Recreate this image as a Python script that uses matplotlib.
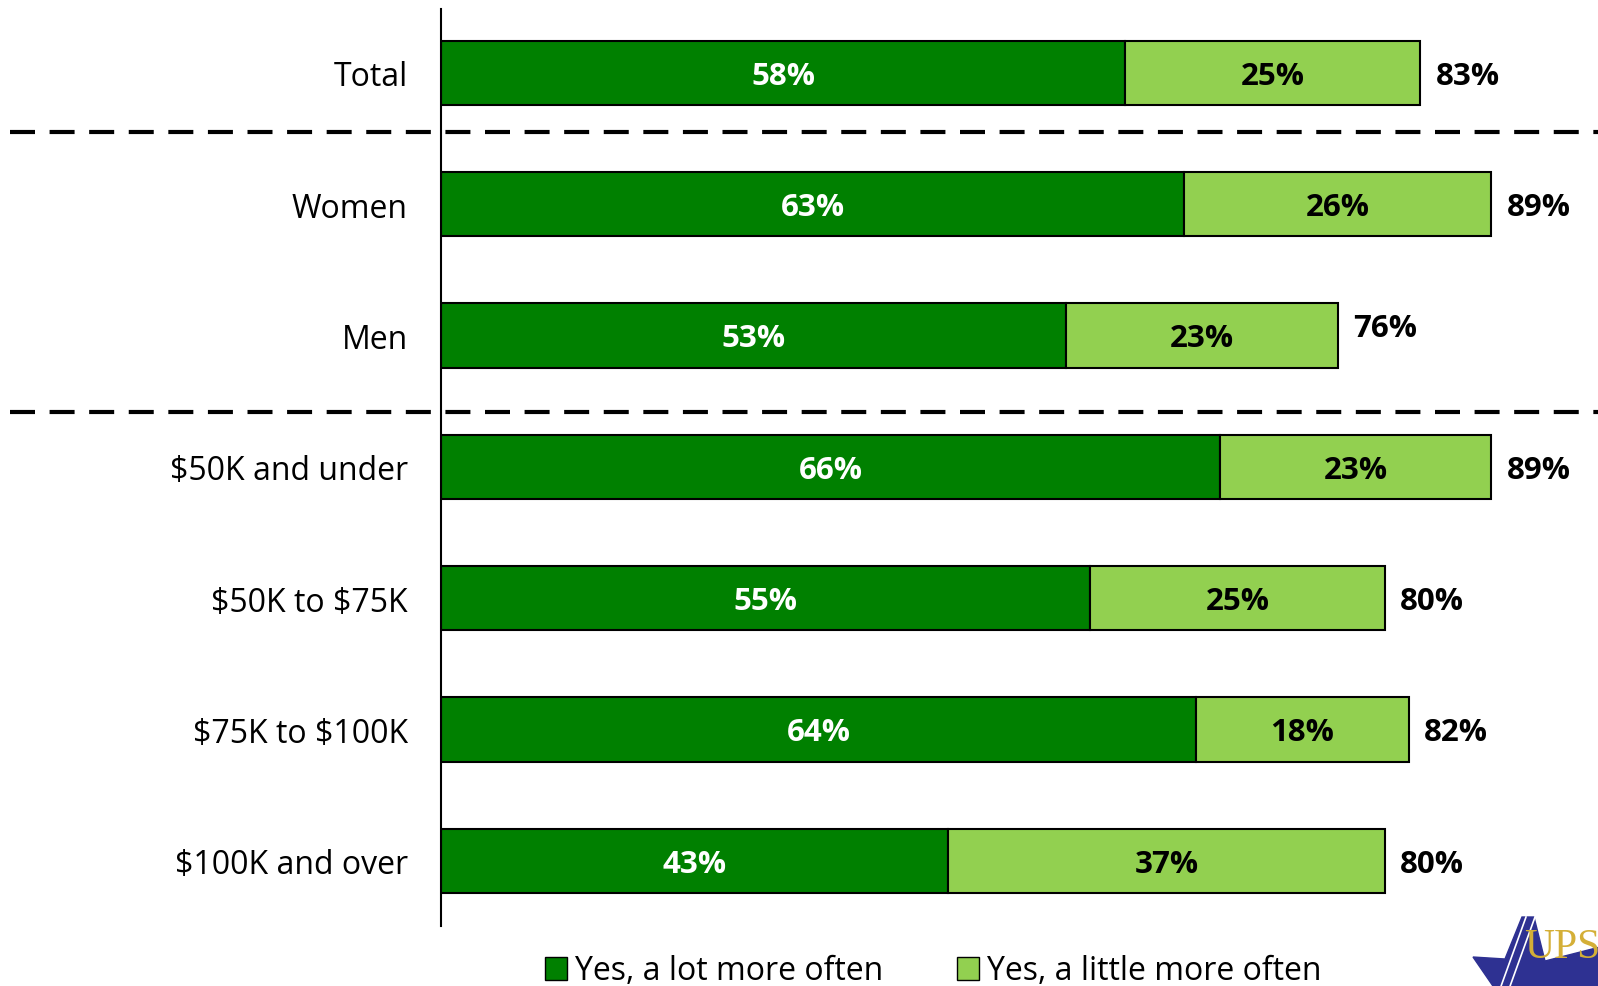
import matplotlib
matplotlib.use("Agg")
import matplotlib.pyplot as plt
from matplotlib.transforms import blended_transform_factory
from matplotlib.patches import Polygon, Patch

categories = ["Total", "Women", "Men", r"\$50K and under", r"\$50K to \$75K",
              r"\$75K to \$100K", r"\$100K and over"]
lot_more = [58, 63, 53, 66, 55, 64, 43]
little_more = [25, 26, 23, 23, 25, 18, 37]
totals = [83, 89, 76, 89, 80, 82, 80]
series_names = ["Yes, a lot more often", "Yes, a little more often"]

DARK = "#008000"
LIGHT = "#92D050"
FONT = ["Open Sans", "DejaVu Sans"]
plt.rcParams["font.family"] = FONT

W, H = 1598, 987
fig = plt.figure(figsize=(W / 100, H / 100), dpi=100)
ax = fig.add_axes([441 / W, 1 - 927 / H, 1 - 441 / W, (927 - 10) / H])

y = list(range(len(categories)))
ax.barh(y, lot_more, height=0.49, color=DARK, edgecolor="black", linewidth=1.5)
ax.barh(y, little_more, left=lot_more, height=0.49, color=LIGHT,
        edgecolor="black", linewidth=1.5)

for i in y:
    ax.text(lot_more[i] / 2, i + 0.02, f"{lot_more[i]}%", ha="center",
            va="center", color="white", fontsize=22.5, fontweight="bold")
    ax.text(lot_more[i] + little_more[i] / 2, i + 0.02, f"{little_more[i]}%",
            ha="center", va="center", color="black", fontsize=22.5,
            fontweight="bold")
    dy = -0.06 if categories[i] == "Men" else 0.02
    ax.text(totals[i] + 1.3, i + dy, f"{totals[i]}%", ha="left", va="center",
            color="black", fontsize=22.5, fontweight="bold")

ax.set_xlim(0, (W - 441) / 11.8)
ax.set_ylim(6.495, -0.487)
ax.set_yticks(y)
ax.set_yticklabels(categories, fontsize=23)
ax.tick_params(axis="y", length=0, pad=24)
ax.set_xticks([])
for s in ["top", "right", "bottom"]:
    ax.spines[s].set_visible(False)
ax.spines["left"].set_linewidth(1.5)

tr = blended_transform_factory(fig.transFigure, ax.transData)
for yl in [0.45, 2.58]:
    ax.plot([10 / W, 1.0], [yl, yl], transform=tr, color="black", lw=3,
            dashes=(6, 3.5), clip_on=False)

handles = [Patch(facecolor=DARK, edgecolor="black", linewidth=1),
           Patch(facecolor=LIGHT, edgecolor="black", linewidth=1)]
fig.legend(handles, series_names, loc="center", ncol=2, frameon=False,
           bbox_to_anchor=(933 / W, 1 - 972 / H), fontsize=23,
           handlelength=0.7, handleheight=0.7, handletextpad=0.25,
           columnspacing=2.3)

# logo fragment (partially cut off, as in the reference)
def fp(x, yy):
    return (x / W, 1 - yy / H)

star = Polygon([fp(1473, 958), fp(1505, 960), fp(1522, 918), fp(1534, 918),
                fp(1545, 962), fp(1600, 948), fp(1600, 990), fp(1495, 990)],
               closed=True, transform=fig.transFigure, color="#2E3192")
fig.patches.append(star)
for x0 in (0, 9):
    fig.lines.append(plt.Line2D([(1500 + x0) / W, (1526 + x0) / W],
                                [1 - 990 / H, 1 - 918 / H],
                                transform=fig.transFigure, color="white",
                                lw=1.2))
fig.text(1524 / W, 1 - 958 / H, "UPS", color="#D4AF37", fontsize=30,
         family=["Liberation Serif", "DejaVu Serif"], va="baseline", ha="left")

fig.savefig("out.png", dpi=100)
